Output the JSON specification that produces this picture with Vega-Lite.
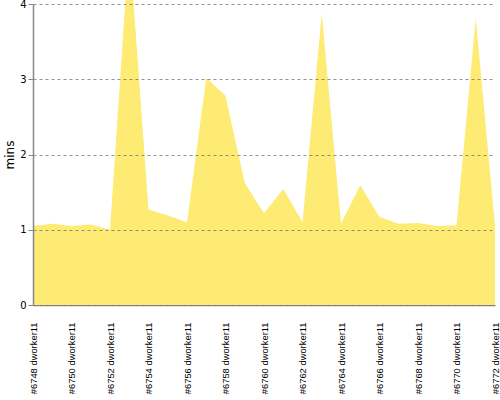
{
  "$schema": "https://vega.github.io/schema/vega-lite/v6.json",
  "autosize": "none",
  "width": 462,
  "height": 301,
  "padding": {"left": 33, "top": 4, "right": 5, "bottom": 95},
  "background": "white",
  "config": {"view": {"stroke": null}},
  "data": {"values": [
    {"build": "#6748 dworker11", "mins": 1.05},
    {"build": "#6749 dworker11", "mins": 1.08},
    {"build": "#6750 dworker11", "mins": 1.05},
    {"build": "#6751 dworker11", "mins": 1.07},
    {"build": "#6752 dworker11", "mins": 1.0},
    {"build": "#6753 dworker11", "mins": 4.8},
    {"build": "#6754 dworker11", "mins": 1.27},
    {"build": "#6755 dworker11", "mins": 1.19},
    {"build": "#6756 dworker11", "mins": 1.1},
    {"build": "#6757 dworker11", "mins": 3.02},
    {"build": "#6758 dworker11", "mins": 2.78},
    {"build": "#6759 dworker11", "mins": 1.62},
    {"build": "#6760 dworker11", "mins": 1.22},
    {"build": "#6761 dworker11", "mins": 1.54},
    {"build": "#6762 dworker11", "mins": 1.1},
    {"build": "#6763 dworker11", "mins": 3.87},
    {"build": "#6764 dworker11", "mins": 1.08},
    {"build": "#6765 dworker11", "mins": 1.59},
    {"build": "#6766 dworker11", "mins": 1.17},
    {"build": "#6767 dworker11", "mins": 1.08},
    {"build": "#6768 dworker11", "mins": 1.09},
    {"build": "#6769 dworker11", "mins": 1.05},
    {"build": "#6770 dworker11", "mins": 1.06},
    {"build": "#6771 dworker11", "mins": 3.81},
    {"build": "#6772 dworker11", "mins": 1.06}
  ]},
  "mark": {"type": "area", "color": "#FDEB73", "opacity": 1, "clip": false},
  "encoding": {
    "x": {
      "field": "build", "type": "ordinal", "sort": null,
      "scale": {"type": "point", "padding": 0},
      "axis": {
        "title": null,
        "values": ["#6748 dworker11", "#6750 dworker11", "#6752 dworker11", "#6754 dworker11", "#6756 dworker11", "#6758 dworker11", "#6760 dworker11", "#6762 dworker11", "#6764 dworker11", "#6766 dworker11", "#6768 dworker11", "#6770 dworker11", "#6772 dworker11"],
        "labelAngle": -90,
        "labelFont": "Liberation Sans",
        "labelFontSize": 9.4,
        "labelColor": "#000000",
        "labelPadding": 17,
        "ticks": false,
        "domainColor": "#888888",
        "domainWidth": 1.5,
        "grid": false,
        "labelOverlap": false
      }
    },
    "y": {
      "field": "mins", "type": "quantitative",
      "scale": {"domain": [0, 4], "nice": false},
      "axis": {
        "title": "mins",
        "titleFont": "DejaVu Sans",
        "titleFontSize": 12,
        "titleFontWeight": "normal",
        "titleColor": "#000000",
        "titlePadding": 3,
        "values": [0, 1, 2, 3, 4],
        "labelFont": "DejaVu Sans",
        "labelFontSize": 10,
        "labelColor": "#000000",
        "tickColor": "#888888",
        "tickSize": 5,
        "domainColor": "#888888",
        "domainWidth": 1.5,
        "grid": true,
        "gridColor": "#777777",
        "gridDash": [3, 3],
        "gridOpacity": 0.8,
        "zindex": 1
      }
    }
  }
}
